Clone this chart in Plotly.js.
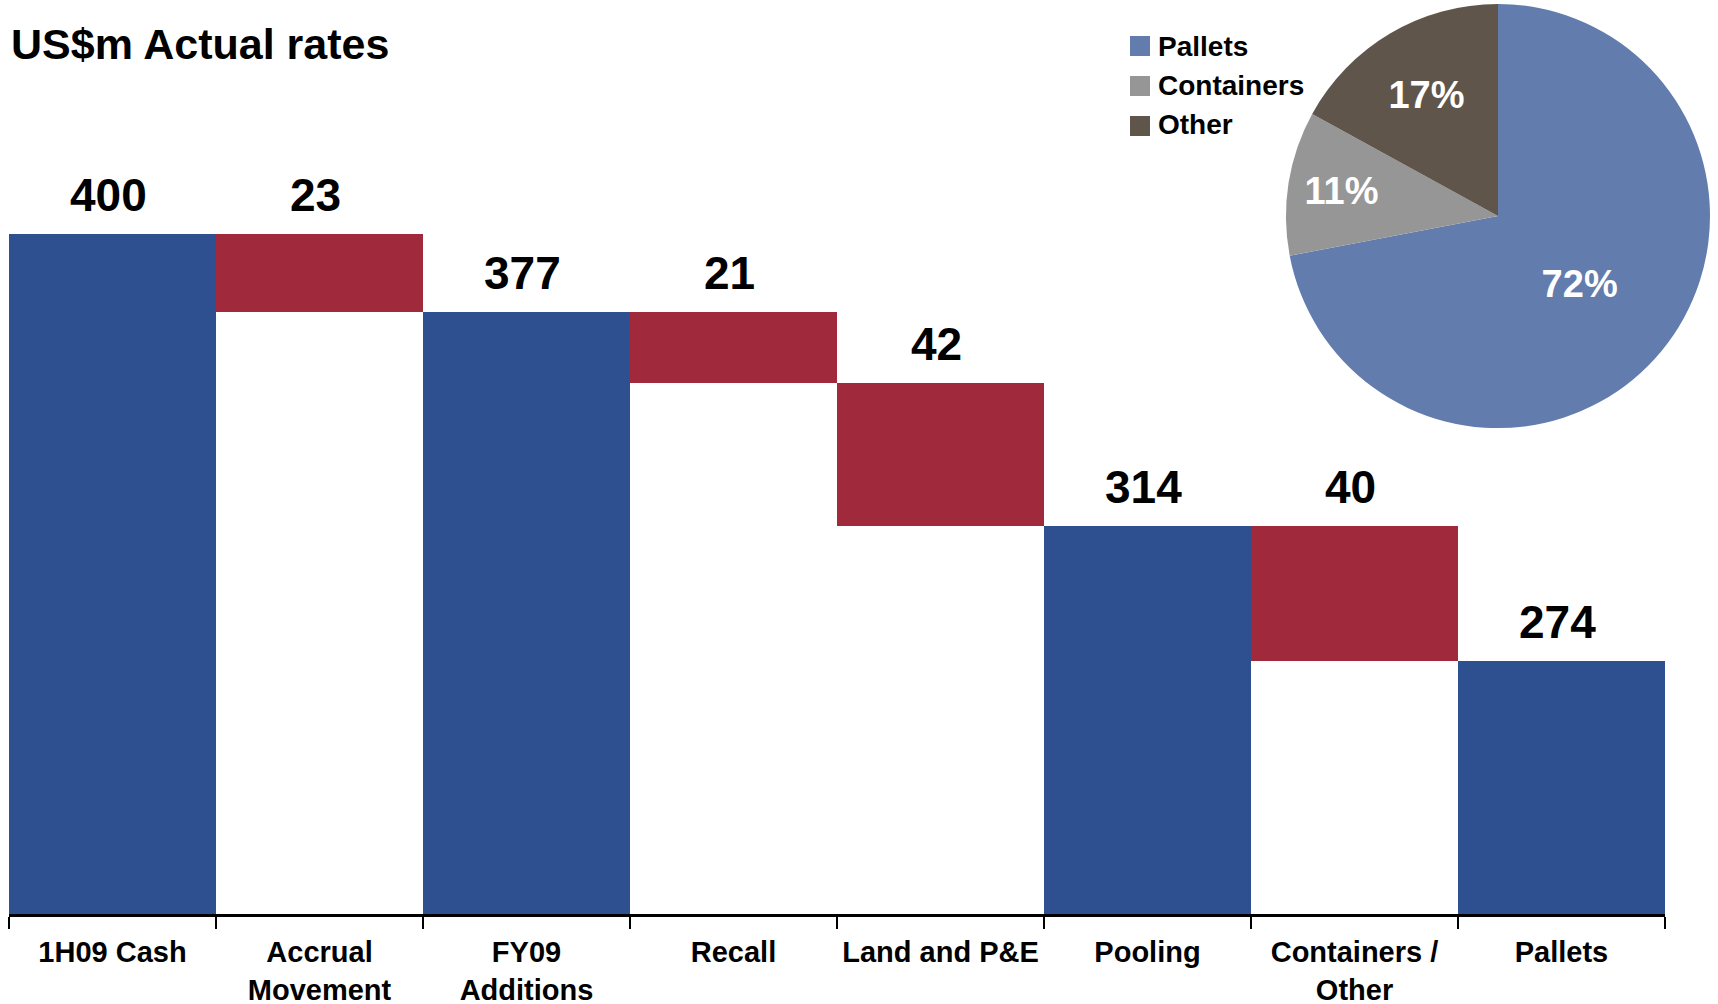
<!DOCTYPE html>
<html>
<head>
<meta charset="utf-8">
<script src="https://cdn.plot.ly/plotly-3.0.1.min.js"></script>
<style>html,body{margin:0;padding:0;background:#fff;}#chart{width:1718px;height:1004px;}</style>
</head>
<body>
<div id="chart"></div>
<script>
// ---- Data ----
const categories = ['1H09 Cash', 'Accrual<br>Movement', 'FY09<br>Additions', 'Recall', 'Land and P&E', 'Pooling', 'Containers /<br>Other', 'Pallets'];
const values = [400, 23, 377, 21, 42, 314, 40, 274];
const measures = ['total', 'decrease', 'total', 'decrease', 'decrease', 'total', 'decrease', 'total'];

const pieLabels = ['Pallets', 'Containers', 'Other'];
const pieValues = [72, 11, 17];

const chartTitle = 'US$m Actual rates';

// ---- Styles ----
const FONT = 'Liberation Sans, Arial, Helvetica, sans-serif';
const totalColor = '#2E5090';
const decreaseColor = '#A0293C';
const pieColors = ['#617CAD', '#969696', '#5F554B'];

// plot-area pixel helpers (margins l=9, r=8, t=4, b=90 on 1718x1004)
const PL = 9, PW = 1701, PT = 4, PH = 910;
const px2x = p => (p - PL) / PW;
const px2y = p => (PT + PH - p) / PH;

// Waterfall geometry from data
const bases = [], heights = [], tops = [], colors = [];
let level = 0;
for (let i = 0; i < values.length; i++) {
  if (measures[i] === 'total') {
    level = values[i];
    bases.push(0); heights.push(values[i]); tops.push(values[i]);
    colors.push(totalColor);
  } else {
    const prev = level;
    level = prev - values[i];
    bases.push(level); heights.push(values[i]); tops.push(prev);
    colors.push(decreaseColor);
  }
}

const barTrace = {
  type: 'bar',
  x: categories,
  y: heights,
  base: bases,
  marker: {color: colors, line: {width: 0}},
  hoverinfo: 'skip',
  showlegend: false,
  xaxis: 'x', yaxis: 'y'
};

const pieTrace = {
  type: 'pie',
  labels: pieLabels,
  values: pieValues,
  sort: false,
  direction: 'clockwise',
  rotation: 0,
  marker: {colors: pieColors, line: {width: 0}},
  textinfo: 'percent',
  texttemplate: '%{percent:.0%}',
  textposition: 'inside',
  insidetextorientation: 'horizontal',
  textfont: {family: FONT, size: 38, color: '#ffffff', weight: 'bold'},
  domain: {x: [0.7507, 1.0], y: [0.534, 1.0]},
  showlegend: true,
  hoverinfo: 'skip'
};

const annotations = categories.map((c, i) => ({
  x: c, y: tops[i], xref: 'x', yref: 'y',
  text: '<b>' + values[i] + '</b>',
  showarrow: false,
  yanchor: 'middle', xanchor: 'center',
  yshift: 39, xshift: -4,
  font: {family: FONT, size: 46, color: '#000000'}
}));

// larger legend swatches drawn under the legend's own symbols
const legendShapes = pieLabels.map((l, i) => ({
  type: 'rect', xref: 'paper', yref: 'paper', layer: 'above',
  x0: px2x(1130), x1: px2x(1150),
  y0: px2y(46 + 40 * i + 10), y1: px2y(46 + 40 * i - 10),
  fillcolor: pieColors[i], line: {width: 0}
}));

const layout = {
  width: 1718, height: 1004,
  margin: {l: 9, r: 8, t: 4, b: 90},
  paper_bgcolor: '#ffffff', plot_bgcolor: '#ffffff',
  font: {family: FONT, color: '#000000'},
  title: {
    text: '<b>' + chartTitle + '</b>',
    x: 0.0064, xref: 'container', xanchor: 'left',
    y: 0.956, yref: 'container', yanchor: 'middle',
    font: {family: FONT, size: 43, color: '#000000'}
  },
  bargap: 0,
  xaxis: {
    type: 'category',
    domain: [0, 0.97354],
    range: [-0.5, 7.5],
    showline: true, linecolor: '#000000', linewidth: 3,
    ticks: 'outside', tickson: 'boundaries', ticklen: 12, tickwidth: 2, tickcolor: '#000000',
    ticklabelstandoff: 10,
    tickfont: {family: FONT, size: 29, color: '#000000', weight: 'bold'},
    showgrid: false, zeroline: false, fixedrange: true
  },
  yaxis: {
    range: [199.5, 467.9],
    visible: false, showgrid: false, zeroline: false, fixedrange: true
  },
  legend: {
    x: px2x(1118), y: px2y(20), xanchor: 'left', yanchor: 'top',
    font: {family: FONT, size: 28, color: '#000000', weight: 'bold'},
    bgcolor: 'rgba(0,0,0,0)', tracegroupgap: 0, itemclick: false, itemdoubleclick: false
  },
  shapes: legendShapes,
  annotations: annotations
};

Plotly.newPlot('chart', [barTrace, pieTrace], layout, {displayModeBar: false, staticPlot: true});
</script>
</body>
</html>
